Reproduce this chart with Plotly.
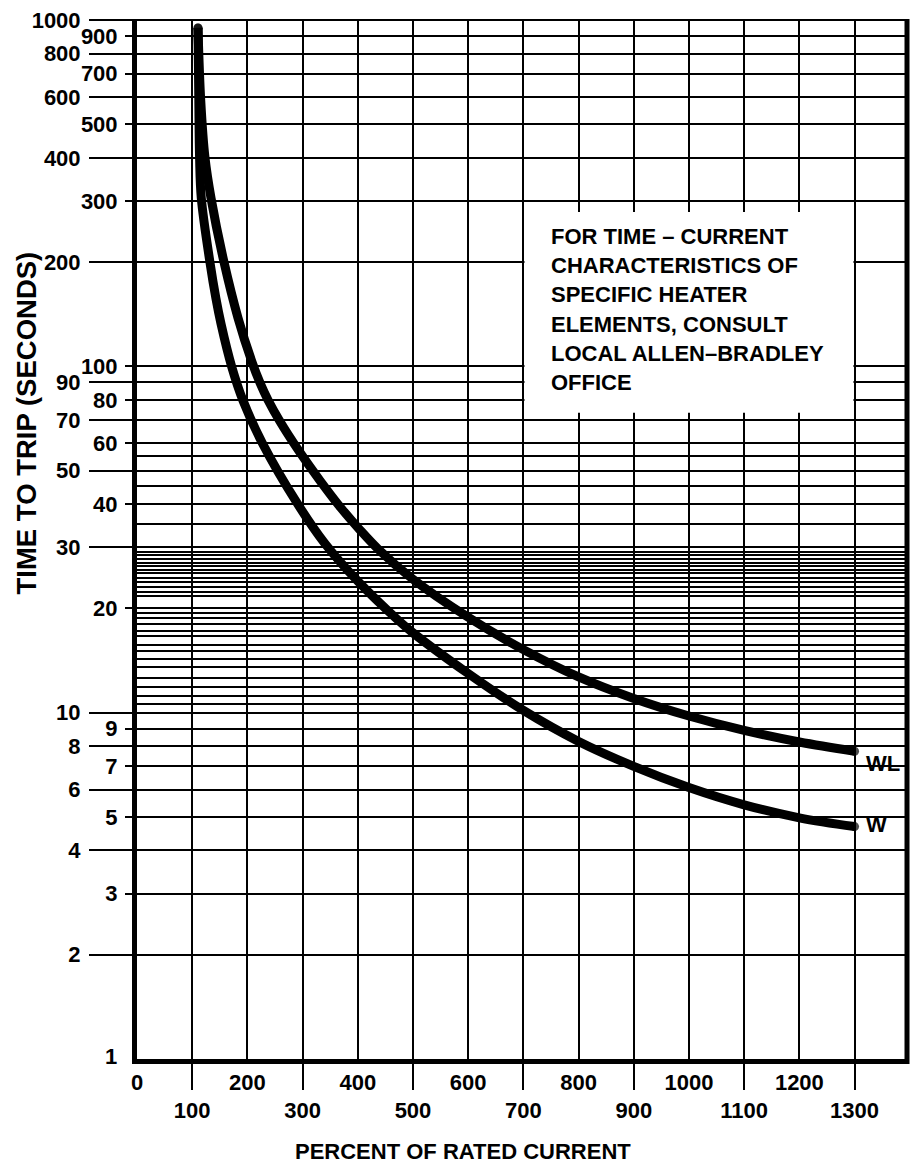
import plotly.graph_objects as go
import math

# ---------------- data ----------------
w_x = [110.5, 112.0, 113.4, 116.5, 132.1, 143.1, 152.2, 171.7, 192.0, 227.2, 291.3, 339.7,
       400, 471.2, 500, 597.7, 700, 800, 900, 1000, 1100, 1200, 1300]
w_y = [949, 588, 400, 306, 200, 156.7, 132.7, 99.6, 79.7, 60.0, 40.0, 30.9,
       23.97, 18.61, 17.0, 13.05, 10.15, 8.26, 7.0, 6.08, 5.42, 4.97, 4.69]

wl_x = [110.5, 115.4, 123.2, 134.1, 157.6, 183.0, 208.3, 222.8, 237.3, 259.1, 291.7, 331.5,
        369.6, 404.0, 436.6, 500, 597.9, 700, 800, 900, 1000, 1100, 1200, 1300]
wl_y = [949, 588, 400, 306, 200, 138.0, 103.0, 89.7, 80.0, 69.3, 57.5, 46.8,
        39.0, 33.7, 29.7, 24.28, 18.95, 15.21, 12.68, 10.99, 9.78, 8.89, 8.23, 7.74]

curve_names = ["W", "WL"]

# y tick labels: short ticks / long ticks (alternating label columns)
y_short_vals = [900, 700, 500, 300, 100, 80, 60, 40, 20, 9, 7, 5, 3]
y_long_vals = [1000, 800, 600, 400, 200, 90, 70, 50, 30, 10, 8, 6, 4, 2]
y_bottom_label = 1

# horizontal grid lines
y_grid = [2, 3, 4, 5, 6, 7, 8, 9, 10,
          10.6, 11.2, 11.83, 12.63, 13.55, 14.26, 15.05, 15.73, 16.6, 17.24, 18.0, 18.73, 19.45,
          20, 21.75, 22.27, 23.08, 23.9, 24.5, 25.27, 25.87, 26.5, 27.14, 27.8, 28.47, 29.15,
          30, 35, 40, 45, 50, 55, 60, 70, 80, 90, 100,
          200, 300, 400, 500, 600, 700, 800, 900, 1000]

# x tick labels: upper row (even) and lower row with long ticks (odd)
x_even_vals = [0, 200, 400, 600, 800, 1000, 1200]
x_odd_vals = [100, 300, 500, 700, 900, 1100, 1300]

note_lines = ["FOR TIME \u2013 CURRENT", "CHARACTERISTICS OF", "SPECIFIC HEATER",
              "ELEMENTS, CONSULT", "LOCAL ALLEN\u2013BRADLEY", "OFFICE"]
note_box_x = [702, 1298]
note_box_y = [73.4, 279.2]
note_anchor = (746, 237.7)

x_title = "PERCENT OF RATED CURRENT"
y_title = "TIME TO TRIP (SECONDS)"

# ---------------- figure ----------------
FONT = "Liberation Sans, Arial, Helvetica, sans-serif"
FS = 22
YR = [0, 3.003]
XR = [0, 1395]

fig = go.Figure()

for xs, ys in [(w_x, w_y), (wl_x, wl_y)]:
    sizes = [9] + [0] * (len(xs) - 2) + [9]
    fig.add_trace(go.Scatter(
        x=xs, y=ys, mode="lines+markers",
        line=dict(color="black", width=9, shape="spline", smoothing=1.0),
        marker=dict(color="black", size=sizes, line=dict(width=0)),
        hoverinfo="skip", showlegend=False))

# dummy traces to bind overlay axes
fig.add_trace(go.Scatter(x=[None], y=[None], xaxis="x2", yaxis="y", showlegend=False))
fig.add_trace(go.Scatter(x=[None], y=[None], xaxis="x", yaxis="y2", showlegend=False))
fig.add_trace(go.Scatter(x=[None], y=[None], xaxis="x", yaxis="y3", showlegend=False))

tickfont = dict(family=FONT, size=FS, color="black", weight="bold")
annfont = dict(family=FONT, size=FS, color="black", weight="bold")

fig.update_layout(
    width=910, height=1163,
    margin=dict(l=137, r=3, t=19, b=104, pad=0),
    paper_bgcolor="white", plot_bgcolor="white",
    showlegend=False,
    font=dict(family=FONT, size=FS, color="black", weight="bold"),
    xaxis=dict(
        range=XR, tickmode="array", tickvals=x_even_vals,
        ticktext=[str(v) for v in x_even_vals], ticks="", tickfont=tickfont,
        showgrid=True, gridcolor="black", gridwidth=2,
        minor=dict(tickmode="array", tickvals=x_odd_vals, showgrid=True,
                   gridcolor="black", gridwidth=2, ticks=""),
        showline=True, linecolor="black", linewidth=5, zeroline=False,
        ticklabelstandoff=0,
    ),
    xaxis2=dict(
        range=XR, overlaying="x", anchor="y", side="bottom",
        tickmode="array", tickvals=x_odd_vals, ticktext=[str(v) for v in x_odd_vals],
        ticks="outside", ticklen=30, tickwidth=2, tickcolor="black", tickfont=tickfont,
        showgrid=False, showline=False, zeroline=False, ticklabelstandoff=2,
    ),
    yaxis=dict(
        type="log", range=YR, tickmode="array", tickvals=y_grid,
        showticklabels=False, ticks="",
        showgrid=True, gridcolor="black", gridwidth=2,
        showline=True, linecolor="black", linewidth=5, zeroline=False,
    ),
    yaxis2=dict(
        type="log", range=YR, overlaying="y", anchor="x", side="left",
        tickmode="array", tickvals=y_short_vals, ticktext=[str(v) for v in y_short_vals],
        ticks="outside", ticklen=11, tickwidth=2, tickcolor="black", tickfont=tickfont,
        showgrid=False, showline=False, zeroline=False, ticklabelstandoff=3,
    ),
    yaxis3=dict(
        type="log", range=YR, overlaying="y", anchor="x", side="left",
        tickmode="array", tickvals=y_long_vals, ticktext=[str(v) for v in y_long_vals],
        ticks="outside", ticklen=47, tickwidth=2, tickcolor="black", tickfont=tickfont,
        showgrid=False, showline=False, zeroline=False, ticklabelstandoff=4,
    ),
)

# white note box (covers grid, below curves)
fig.add_shape(type="rect", xref="x", yref="y",
              x0=note_box_x[0], x1=note_box_x[1], y0=note_box_y[0], y1=note_box_y[1],
              fillcolor="white", line=dict(width=0), layer="between")

# right border
fig.add_shape(type="line", xref="paper", yref="paper", x0=1, x1=1, y0=-0.0048, y1=1.0,
              line=dict(color="black", width=5), layer="above")

annotations = []
for i, t in enumerate(note_lines):
    annotations.append(dict(
        x=note_anchor[0], y=math.log10(note_anchor[1]), xref="x", yref="y",
        text=t, showarrow=False, xanchor="left", yanchor="middle", align="left",
        yshift=-29.3 * i, font=annfont))

# curve end labels
annotations.append(dict(x=1300, y=math.log10(7.13), xref="x", yref="y", text=curve_names[1],
                        showarrow=False, xanchor="left", yanchor="middle", xshift=9,
                        font=annfont))
annotations.append(dict(x=1300, y=math.log10(4.77), xref="x", yref="y", text=curve_names[0],
                        showarrow=False, xanchor="left", yanchor="middle", xshift=9,
                        font=annfont))

# bottom "1" label
annotations.append(dict(x=0, y=math.log10(y_bottom_label), xref="paper", yref="y",
                        text=str(y_bottom_label), showarrow=False, xanchor="right",
                        yanchor="middle", xshift=-18, yshift=3, font=annfont))

# axis titles
annotations.append(dict(x=(462.5 - 137) / 770, y=(1059 - 1151) / 1040, xref="paper", yref="paper",
                        text=x_title, showarrow=False, xanchor="center", yanchor="middle",
                        font=annfont))
annotations.append(dict(x=(26 - 137) / 770, y=(1059 - 423.5) / 1040, xref="paper", yref="paper",
                        text=y_title, showarrow=False, textangle=-90,
                        xanchor="center", yanchor="middle",
                        font=dict(family=FONT, size=27.5, color="black", weight="bold")))

fig.update_layout(annotations=annotations)

fig.write_html("out.html", config={"displayModeBar": False},
               post_script="document.body.style.margin='0';document.body.style.padding='0';")
